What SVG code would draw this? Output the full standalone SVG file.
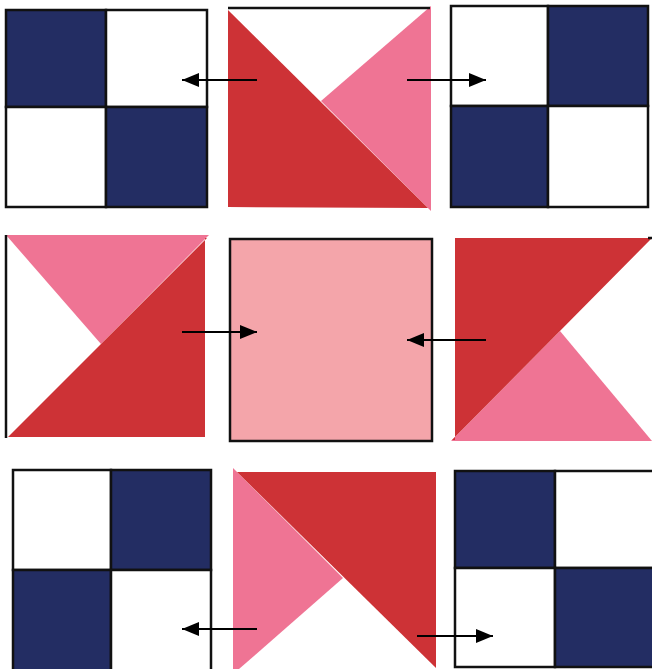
<svg xmlns="http://www.w3.org/2000/svg" width="652" height="669" viewBox="0 0 652 669">
<defs>
<style>
.navy{fill:#232D63;stroke:#111;stroke-width:2.5}
.wht{fill:#fff;stroke:#111;stroke-width:2.5}
.red{fill:#CD3236}
.pink{fill:#EF7494}
.lpink{fill:#F4A5AA;stroke:#111;stroke-width:2.5}
.edge{stroke:#111;stroke-width:2.5;fill:none}
.arr{stroke:#000;stroke-width:2;fill:none;marker-end:url(#ah)}
</style>
<marker id="ah" markerUnits="userSpaceOnUse" markerWidth="18" markerHeight="16" refX="17" refY="8" orient="auto">
<path d="M0,1 L17,8 L0,15 z" fill="#000"/>
</marker>
</defs>
<rect width="652" height="669" fill="#fff"/>

<g id="r1c1">
<rect class="navy" x="6" y="10" width="100" height="97"/>
<rect class="wht" x="106" y="10" width="101" height="97"/>
<rect class="wht" x="6" y="107" width="100" height="100"/>
<rect class="navy" x="106" y="107" width="101" height="100"/>
</g>

<g id="r1c2">
<polygon class="pink" points="431,6 321,101 431,211"/>
<polygon class="red" points="228,10 428,208 228,207"/>
<line class="edge" x1="228" y1="8" x2="430" y2="8"/>
</g>

<g id="r1c3">
<rect class="wht" x="451" y="6" width="97" height="100"/>
<rect class="navy" x="548" y="6" width="100" height="100"/>
<rect class="navy" x="451" y="106" width="97" height="101"/>
<rect class="wht" x="548" y="106" width="100" height="101"/>
</g>

<g id="r2c1">
<polygon class="pink" points="6,235 209,235 101,344"/>
<polygon class="red" points="8,437 207,238 205,238 205,437"/>
<line class="edge" x1="6" y1="235" x2="6" y2="438"/>
</g>

<g id="r2c2">
<rect class="lpink" x="230" y="239" width="202" height="202"/>
</g>

<g id="r2c3">
<polygon class="pink" points="451,441 560,331 652,441"/>
<polygon class="red" points="455,238 652,238 452,440 455,440"/>
<line class="edge" x1="648" y1="238" x2="652" y2="238"/>
</g>

<g id="r3c1">
<rect class="wht" x="13" y="470" width="98" height="100"/>
<rect class="navy" x="111" y="470" width="100" height="100"/>
<rect class="navy" x="13" y="570" width="98" height="102"/>
<rect class="wht" x="111" y="570" width="100" height="102"/>
</g>

<g id="r3c2">
<polygon class="pink" points="233,468 343,578 239,669 233,669"/>
<polygon class="red" points="237,472 436,472 436,668"/>
</g>

<g id="r3c3">
<rect class="navy" x="455" y="471" width="100" height="97"/>
<rect class="wht" x="555" y="471" width="99" height="97"/>
<rect class="wht" x="455" y="568" width="100" height="99"/>
<rect class="navy" x="555" y="568" width="99" height="99"/>
</g>

<g id="connectors">
<line class="arr" x1="257" y1="80" x2="182" y2="80"/>
<line class="arr" x1="407" y1="80" x2="486" y2="80"/>
<line class="arr" x1="182" y1="332" x2="257" y2="332"/>
<line class="arr" x1="486" y1="340" x2="407" y2="340"/>
<line class="arr" x1="257" y1="629" x2="182" y2="629"/>
<line class="arr" x1="417" y1="636" x2="493" y2="636"/>
</g>
</svg>
